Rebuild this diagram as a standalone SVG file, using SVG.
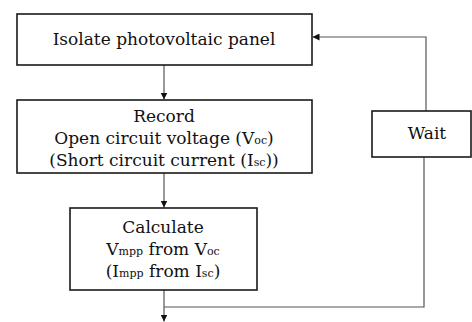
<svg xmlns="http://www.w3.org/2000/svg" width="472" height="322" viewBox="0 0 472 322">
<style>
.box{fill:#fff;stroke:#1a1a1a;stroke-width:1.6}
.t{font-family:'DejaVu Serif','Liberation Serif',serif;font-size:17px;fill:#111;text-anchor:middle}
.s{font-size:11px}
.c{fill:none;stroke:#555;stroke-width:1.2}
</style>
<defs>
<marker id="ah" viewBox="0 0 10 10" refX="10" refY="5" markerWidth="7" markerHeight="7" markerUnits="userSpaceOnUse" orient="auto">
<path d="M0,0 L10,5 L0,10 z" fill="#111"/>
</marker>
</defs>
<rect width="472" height="322" fill="#fff"/>
<g id="connectors">
<line class="c" x1="164" y1="65" x2="164" y2="99.5" marker-end="url(#ah)"/>
<line class="c" x1="164" y1="173" x2="164" y2="207.5" marker-end="url(#ah)"/>
<line class="c" x1="164" y1="290" x2="164" y2="321.5" marker-end="url(#ah)"/>
<polyline class="c" points="164,307 424,307 424,157"/>
<polyline class="c" points="426,111 426,37 312.5,37" marker-end="url(#ah)"/>
</g>
<g id="isolate">
<rect class="box" x="17" y="14" width="295" height="51"/>
<text class="t" x="164" y="45">Isolate photovoltaic panel</text>
</g>
<g id="record">
<rect class="box" x="17" y="100" width="295" height="73"/>
<text class="t" x="164" y="122">Record</text>
<text class="t" x="164" y="144">Open circuit voltage (V<tspan class="s">oc</tspan>)</text>
<text class="t" x="164" y="166">(Short circuit current (I<tspan class="s">sc</tspan>))</text>
</g>
<g id="calculate">
<rect class="box" x="70" y="208" width="187" height="82"/>
<text class="t" x="163" y="233">Calculate</text>
<text class="t" x="163" y="255">V<tspan class="s">mpp</tspan> from V<tspan class="s">oc</tspan></text>
<text class="t" x="163" y="277">(I<tspan class="s">mpp</tspan> from I<tspan class="s">sc</tspan>)</text>
</g>
<g id="wait">
<rect class="box" x="372" y="111" width="99" height="46"/>
<text class="t" x="427" y="139">Wait</text>
</g>
</svg>
